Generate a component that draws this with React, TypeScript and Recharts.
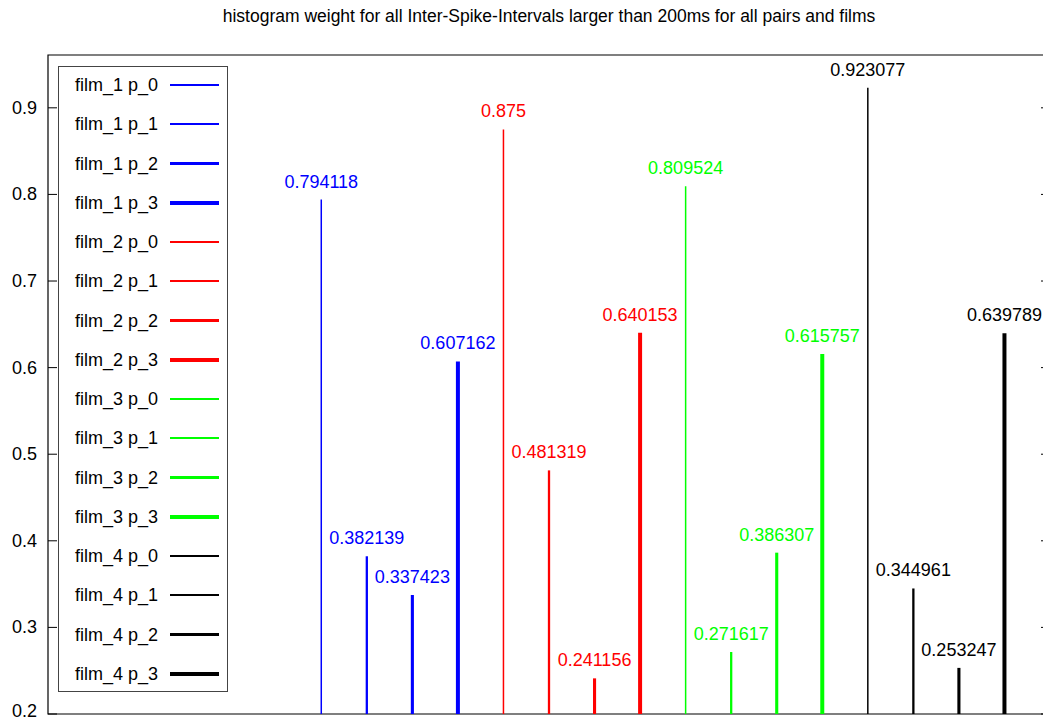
import { LineChart, Line, XAxis, YAxis, ReferenceArea, LabelList } from "recharts";

const films = ["film_1", "film_2", "film_3", "film_4"];
const pairs = ["p_0", "p_1", "p_2", "p_3"];
const filmColors = ["#0000ff", "#ff0000", "#00ff00", "#000000"];
const pairWidths = [1.5, 2.3, 3.1, 4];

// histogram weights, one list per film, in pair order
const film1 = [0.794118, 0.382139, 0.337423, 0.607162];
const film2 = [0.875, 0.481319, 0.241156, 0.640153];
const film3 = [0.809524, 0.271617, 0.386307, 0.615757];
const film4 = [0.923077, 0.344961, 0.253247, 0.639789];
const filmValues = [film1, film2, film3, film4];

const yTicks = [0.2, 0.3, 0.4, 0.5, 0.6, 0.7, 0.8, 0.9];
const Y_MIN = 0.2;
const Y_MAX = 0.961;
const X_MAX = 22;
const FIRST_X = 6;

const FONT = "'Liberation Sans', Arial, sans-serif";

const series = films.flatMap((film, f) =>
  pairs.map((pair, p) => ({
    key: `${film}_${pair}`,
    name: `${film} ${pair}`,
    x: FIRST_X + f * pairs.length + p,
    value: filmValues[f][p],
    color: filmColors[f],
    width: pairWidths[p],
  }))
);

// impulses: every series gets a row at the baseline and a row at its value
const rows = series.flatMap((s) => [
  { x: s.x, [s.key]: Y_MIN },
  { x: s.x, [s.key]: s.value },
]);

function LeftTick({ x, y, payload }: any) {
  // keep the bottom label inside the picture
  const baseline = Math.min(y + 6, 717);
  return (
    <g>
      <line x1={x} x2={x + 9} y1={y} y2={y} stroke="#000" />
      <text x={x - 11} y={baseline} textAnchor="end" fontSize={18} fontFamily={FONT} fill="#000">
        {payload.value.toFixed(1)}
      </text>
    </g>
  );
}

function RightTick({ x, y }: any) {
  return <line x1={x} x2={x - 9} y1={y} y2={y} stroke="#000" />;
}

export default function App() {
  return (
    <div style={{ position: "absolute", left: 0, top: 0, width: 1043, height: 722, overflow: "hidden", background: "#fff", fontFamily: FONT }}>
      <div
        style={{
          position: "absolute",
          left: 549,
          top: 6,
          transform: "translateX(-50%)",
          whiteSpace: "nowrap",
          fontSize: 17.5,
          color: "#000",
        }}
      >
        histogram weight for all Inter-Spike-Intervals larger than 200ms for all pairs and films
      </div>
      <div style={{ position: "absolute", left: 0, top: 0 }}>
        <LineChart width={1060} height={722} data={rows} margin={{ top: 55, right: 0, left: 0, bottom: 8 }}>
          <XAxis dataKey="x" type="number" domain={[0, X_MAX]} hide />
          <YAxis
            yAxisId="left"
            domain={[Y_MIN, Y_MAX]}
            ticks={yTicks}
            interval={0}
            width={48}
            axisLine={false}
            tickLine={false}
            tickSize={0}
            tickMargin={0}
            tick={<LeftTick />}
            allowDataOverflow
          />
          <YAxis
            yAxisId="right"
            orientation="right"
            domain={[Y_MIN, Y_MAX]}
            ticks={yTicks}
            interval={0}
            width={10}
            axisLine={false}
            tickLine={false}
            tickSize={0}
            tickMargin={0}
            tick={<RightTick />}
            allowDataOverflow
          />
          <ReferenceArea
            yAxisId="left"
            x1={0}
            x2={X_MAX}
            y1={Y_MIN}
            y2={Y_MAX}
            fill="none"
            stroke="#000"
            strokeWidth={1.2}
            fillOpacity={0}
            strokeOpacity={1}
          />
          {series.map((s) => (
            <Line
              key={s.key}
              yAxisId="left"
              dataKey={s.key}
              stroke={s.color}
              strokeWidth={s.width}
              dot={false}
              activeDot={false}
              connectNulls={false}
              isAnimationActive={false}
            >
              <LabelList
                dataKey={s.key}
                content={(props: any) => {
                  const { x, y, value } = props;
                  if (value == null || value === Y_MIN) return null;
                  return (
                    <text x={x} y={y - 12} textAnchor="middle" fontSize={18} fontFamily={FONT} fill={s.color}>
                      {String(value)}
                    </text>
                  );
                }}
              />
            </Line>
          ))}
        </LineChart>
      </div>
      <div
        style={{
          position: "absolute",
          left: 58,
          top: 66,
          width: 170,
          height: 626,
          border: "1px solid #444",
          boxSizing: "border-box",
          background: "#fff",
        }}
      >
        {series.map((s, i) => (
          <div key={s.key} style={{ position: "absolute", left: 0, top: 18 + i * 39.25 - 12, height: 24, width: 170 }}>
            <span
              style={{
                position: "absolute",
                right: 170 - 99,
                top: 0,
                lineHeight: "24px",
                fontSize: 18,
                whiteSpace: "nowrap",
                color: "#000",
              }}
            >
              {s.name}
            </span>
            <div
              style={{
                position: "absolute",
                left: 111,
                width: 49,
                top: 12 - s.width / 2,
                height: s.width,
                background: s.color,
              }}
            />
          </div>
        ))}
      </div>
    </div>
  );
}
